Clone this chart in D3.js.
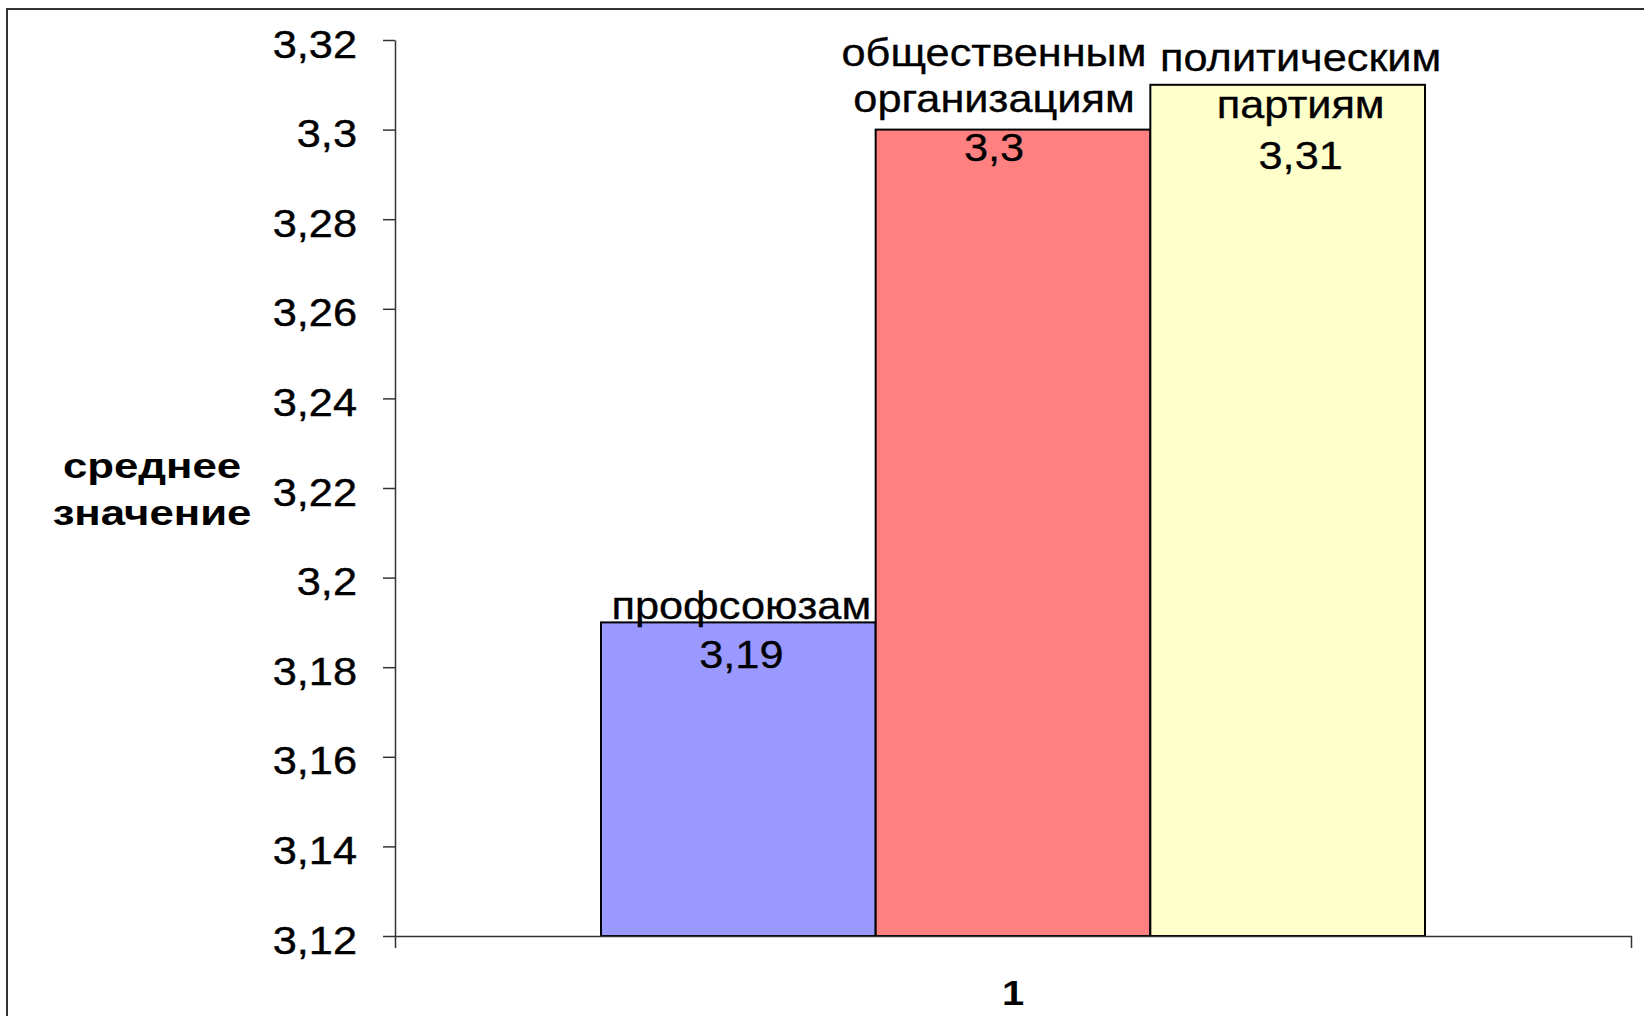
<!DOCTYPE html>
<html>
<head>
<meta charset="utf-8">
<script src="https://cdn.jsdelivr.net/npm/d3@7/dist/d3.min.js"></script>
<style>
  html, body { margin: 0; padding: 0; background: #ffffff; }
  svg { display: block; }
</style>
</head>
<body>
<script>
// ---------- data ----------
const categories = ["1"];
const seriesNames = ["профсоюзам", "общественным организациям", "политическим партиям"];
const seriesValues = [3.19, 3.30, 3.31];
const yTickValues = [3.12, 3.14, 3.16, 3.18, 3.20, 3.22, 3.24, 3.26, 3.28, 3.30, 3.32];
const yTickLabels = ["3,12", "3,14", "3,16", "3,18", "3,2", "3,22", "3,24", "3,26", "3,28", "3,3", "3,32"];
const valueLabels = ["3,19", "3,3", "3,31"];
const yTitleLines = ["среднее", "значение"];

// ---------- styles / layout ----------
const W = 1644, H = 1016;
const seriesColors = ["#9999FF", "#FF8080", "#FFFFCC"];
const FONT = "'Liberation Sans', Arial, sans-serif";
const STRETCH = 1.14;
const labelLayout = [
  { lines: ["профсоюзам"], dx: 3, dy: [-3, 46] },
  { lines: ["общественным", "организациям"], dx: -19, dy: [-64, -18, 31] },
  { lines: ["политическим", "партиям"], dx: 13, dy: [-14, 33, 84] }
];

const svg = d3.select("body").append("svg").attr("width", W).attr("height", H);

// outer frame (extends past right/bottom edges)
svg.append("rect")
  .attr("x", 7).attr("y", 9).attr("width", W + 20).attr("height", H + 20)
  .attr("fill", "none").attr("stroke", "#333").attr("stroke-width", 2);

const y = d3.scaleLinear().domain([3.12, 3.32]).range([936, 40]);
const x0 = d3.scaleBand().domain(categories).range([395, 1631]).paddingInner(0).paddingOuter(0.25);
const x1 = d3.scaleBand().domain(d3.range(seriesValues.length)).range([0, x0.bandwidth()]).padding(0);

// bars
const g = svg.append("g").attr("transform", `translate(${x0(categories[0])},0)`);
g.selectAll("rect.bar")
  .data(seriesValues)
  .join("rect")
  .attr("class", "bar")
  .attr("x", (d, i) => x1(i))
  .attr("width", x1.bandwidth())
  .attr("y", d => y(d))
  .attr("height", d => y(3.12) - y(d))
  .attr("fill", (d, i) => seriesColors[i])
  .attr("stroke", "#000")
  .attr("stroke-width", 2);

// y axis
const yAxis = d3.axisLeft(y)
  .tickValues(yTickValues)
  .tickFormat((d, i) => yTickLabels[i])
  .tickSize(12).tickSizeOuter(0).tickPadding(26);
const ya = svg.append("g").attr("transform", "translate(395,0)").call(yAxis);
ya.select(".domain").attr("stroke", "#333").attr("stroke-width", 1.5);
ya.selectAll(".tick line").attr("stroke", "#333").attr("stroke-width", 1.5);
ya.selectAll(".tick text")
  .attr("x", null).attr("dy", null)
  .attr("transform", `translate(-38,17) scale(${STRETCH},1)`)
  .attr("font-family", FONT).attr("font-size", 38).attr("fill", "#000")
  .attr("stroke", "#000").attr("stroke-width", 0.4);

// x axis
const xAxis = d3.axisBottom(x0).tickSize(0).tickSizeOuter(12).tickPadding(0);
const xa = svg.append("g").attr("transform", "translate(0,936)").call(xAxis);
xa.select(".domain").attr("stroke", "#333").attr("stroke-width", 1.5);
xa.selectAll(".tick text")
  .attr("y", null).attr("dy", null)
  .attr("transform", `translate(0,69) scale(${STRETCH},1)`)
  .attr("font-family", FONT).attr("font-size", 35).attr("font-weight", "bold").attr("fill", "#000");

// y title
svg.append("g").selectAll("text")
  .data(yTitleLines)
  .join("text")
  .attr("transform", (d, i) => `translate(152,${478 + i * 47}) scale(1.25,1)`)
  .attr("text-anchor", "middle")
  .attr("font-family", FONT).attr("font-size", 35).attr("font-weight", "bold")
  .attr("fill", "#000")
  .text(d => d);

// data labels
seriesValues.forEach((v, i) => {
  const L = labelLayout[i];
  const lines = L.lines.concat([valueLabels[i]]);
  const cx = x0(categories[0]) + x1(i) + x1.bandwidth() / 2 + L.dx;
  svg.append("g").selectAll("text")
    .data(lines)
    .join("text")
    .attr("transform", (d, k) => `translate(${cx},${y(v) + L.dy[k]}) scale(${STRETCH},1)`)
    .attr("text-anchor", "middle")
    .attr("font-family", FONT).attr("font-size", 38)
    .attr("fill", "#000")
    .attr("stroke", "#000").attr("stroke-width", 0.3)
    .text(d => d);
});
</script>
</body>
</html>
